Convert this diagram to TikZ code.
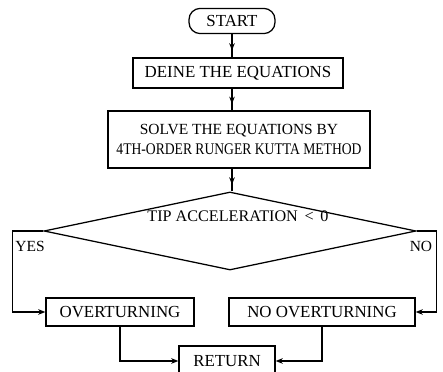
\documentclass[tikz,border=0pt]{standalone}
\usepackage{fontspec}
\setmainfont{Liberation Serif}
\usetikzlibrary{positioning,shapes.geometric,arrows.meta,decorations.markings}
\tikzset{
  terminal/.style={draw=black,rounded corners=8pt,line width=0.9pt,minimum height=0.63cm,inner sep=2pt,align=center,font=\fontsize{12}{15}\selectfont},
  process/.style={draw=black,line width=0.9pt,inner sep=2pt,align=center,font=\fontsize{12}{15}\selectfont},
  decision/.style={diamond,draw=black,line width=0.9pt,inner sep=0pt,minimum width=9.3cm,minimum height=1.95cm},
  flow/.style={-{Stealth[length=1.8mm,width=1.4mm]},line width=0.9pt,draw=black},
  midflow/.style={line width=0.9pt,draw=black,postaction={decorate},
    decoration={markings,mark=at position 0.7 with {\arrow{Stealth[length=1.8mm,width=1.4mm]}}}},
  answer/.style={font=\fontsize{11}{13}\selectfont,inner sep=1pt}
}
\begin{document}
\begin{tikzpicture}[x=0.025cm,y=-0.025cm]
\useasboundingbox (0,0) rectangle (443,372);
% blocks
\node[terminal,minimum width=2.15cm] (start) at (232,21) {START};
\node[process,minimum width=5.25cm,minimum height=0.75cm] (define) at (238,73) {DEINE THE EQUATIONS};
\node[process,minimum width=6.55cm,minimum height=1.425cm,font=\fontsize{11}{14.5}\selectfont] (solve) at (239,139.5)
  {SOLVE THE EQUATIONS BY\\\scalebox{0.88}[1.05]{4TH-ORDER RUNGER KUTTA METHOD}};
\node[decision] (tip) at (230,231) {};
\node[font=\fontsize{11.5}{14}\selectfont,inner sep=1pt] (tiptext) at (238,216) {TIP ACCELERATION \,<\, 0};
\node[answer] (yes) at (30,246) {YES};
\node[answer] (no) at (421,246) {NO};
\node[process,minimum width=3.7cm,minimum height=0.7cm] (over) at (120,312) {OVERTURNING};
\node[process,minimum width=4.65cm,minimum height=0.7cm] (noover) at (322,312) {NO OVERTURNING};
\node[process,minimum width=2.4cm,minimum height=0.75cm] (ret) at (227,361) {RETURN};

% connectors
\draw[midflow] (start.south) -- (start.south |- define.north);
\draw[midflow] (start.south |- define.south) -- (start.south |- solve.north);
\draw[midflow] (start.south |- solve.south) -- (start.south |- tip.north);
\draw[flow] (tip.west) -- ++(-31,0) |- (over.west);
\draw[flow] (tip.east) -- ++(20,0) |- (noover.east);
\draw[flow] (over.south) |- (ret.west);
\draw[flow] (noover.south) |- (ret.east);
\end{tikzpicture}
\end{document}
